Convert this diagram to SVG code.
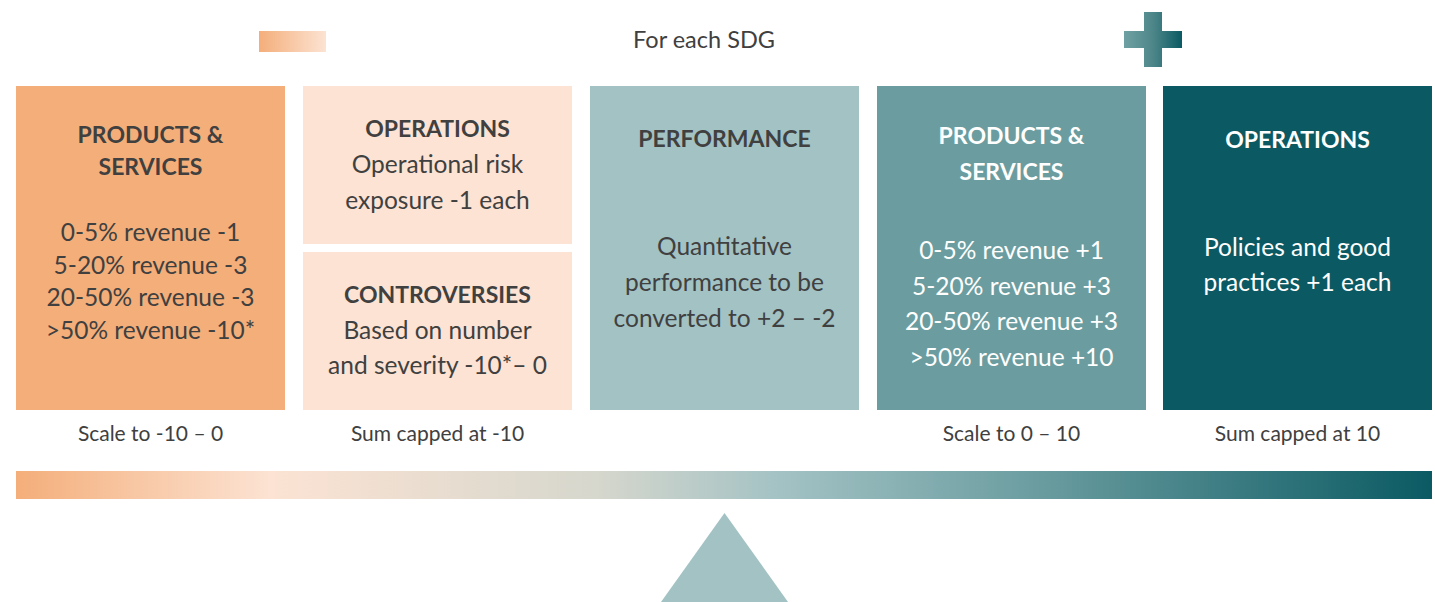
<svg xmlns="http://www.w3.org/2000/svg" width="1435" height="602" viewBox="0 0 1435 602">
  <defs>
    <linearGradient id="gPeach" x1="0" y1="0" x2="1" y2="0">
      <stop offset="0" stop-color="#F4AE7A"/>
      <stop offset="1" stop-color="#FCE3D3"/>
    </linearGradient>
    <linearGradient id="gTeal" gradientUnits="userSpaceOnUse" x1="1124" y1="0" x2="1182" y2="0">
      <stop offset="0" stop-color="#6FA1A3"/>
      <stop offset="0.5" stop-color="#4D8689"/>
      <stop offset="1" stop-color="#0B5A63"/>
    </linearGradient>
    <linearGradient id="gScale" gradientUnits="userSpaceOnUse" x1="16" y1="0" x2="1432" y2="0">
      <stop offset="0" stop-color="#F4AE7A"/>
      <stop offset="0.18" stop-color="#FCE3D3"/>
      <stop offset="0.41" stop-color="#D6D7CD"/>
      <stop offset="0.54" stop-color="#A3C2C4"/>
      <stop offset="0.72" stop-color="#6B9DA0"/>
      <stop offset="1" stop-color="#0B5A63"/>
    </linearGradient>
    <style>
      text { font-family: Lato, "Liberation Sans", sans-serif; text-anchor: middle; }
      .h { font-size: 23px; font-weight: bold; }
      .b { font-size: 24.5px; }
      .s { font-size: 21px; fill: #404040; }
      .dk { fill: #404040; }
      .wt { fill: #FFFFFF; }
    </style>
  </defs>

  <!-- header: legend swatch, title, plus sign -->
  <g id="header">
    <rect x="259" y="31" width="67" height="21" fill="url(#gPeach)"/>
    <text x="704" y="48" font-size="23.5" fill="#404040">For each SDG</text>
    <path d="M1144 12 H1162 V31 H1182 V48 H1162 V67 H1144 V48 H1124 V31 H1144 Z" fill="url(#gTeal)"/>
  </g>

  <!-- negative products & services -->
  <g id="neg-products">
    <rect x="16" y="86" width="269" height="324" fill="#F4AE7A"/>
    <text class="h dk" x="150.5" y="143">PRODUCTS &amp;</text>
    <text class="h dk" x="150.5" y="175">SERVICES</text>
    <text class="b dk" x="150.5" y="241">0-5% revenue -1</text>
    <text class="b dk" x="150.5" y="273.5">5-20% revenue -3</text>
    <text class="b dk" x="150.5" y="306">20-50% revenue -3</text>
    <text class="b dk" x="150.5" y="338.5">&gt;50% revenue -10*</text>
  </g>

  <!-- negative operations -->
  <g id="neg-operations">
    <rect x="303" y="86" width="269" height="158" fill="#FCE3D3"/>
    <text class="h dk" x="437.5" y="137">OPERATIONS</text>
    <text class="b dk" x="437.5" y="173">Operational risk</text>
    <text class="b dk" x="437.5" y="209">exposure -1 each</text>
  </g>

  <!-- controversies -->
  <g id="controversies">
    <rect x="303" y="252" width="269" height="158" fill="#FCE3D3"/>
    <text class="h dk" x="437.5" y="303">CONTROVERSIES</text>
    <text class="b dk" x="437.5" y="339">Based on number</text>
    <text class="b dk" x="437.5" y="374">and severity -10*– 0</text>
  </g>

  <!-- performance -->
  <g id="performance">
    <rect x="590" y="86" width="269" height="324" fill="#A3C2C4"/>
    <text class="h dk" x="724.5" y="147">PERFORMANCE</text>
    <text class="b dk" x="724.5" y="255">Quantitative</text>
    <text class="b dk" x="724.5" y="291">performance to be</text>
    <text class="b dk" x="724.5" y="327">converted to +2 – -2</text>
  </g>

  <!-- positive products & services -->
  <g id="pos-products">
    <rect x="877" y="86" width="269" height="324" fill="#6B9DA0"/>
    <text class="h wt" x="1011.5" y="144">PRODUCTS &amp;</text>
    <text class="h wt" x="1011.5" y="180">SERVICES</text>
    <text class="b wt" x="1011.5" y="259">0-5% revenue +1</text>
    <text class="b wt" x="1011.5" y="294.5">5-20% revenue +3</text>
    <text class="b wt" x="1011.5" y="330">20-50% revenue +3</text>
    <text class="b wt" x="1011.5" y="365.5">&gt;50% revenue +10</text>
  </g>

  <!-- positive operations -->
  <g id="pos-operations">
    <rect x="1163" y="86" width="269" height="324" fill="#0B5A63"/>
    <text class="h wt" x="1297.5" y="148">OPERATIONS</text>
    <text class="b wt" x="1297.5" y="256">Policies and good</text>
    <text class="b wt" x="1297.5" y="291">practices +1 each</text>
  </g>

  <!-- aggregation notes under the columns -->
  <g id="notes">
    <text class="s" x="150.5" y="441">Scale to -10 – 0</text>
    <text class="s" x="437.5" y="441">Sum capped at -10</text>
    <text class="s" x="1011.5" y="441">Scale to 0 – 10</text>
    <text class="s" x="1297.5" y="441">Sum capped at 10</text>
  </g>

  <!-- balance beam and fulcrum -->
  <g id="scale">
    <rect x="16" y="471" width="1416" height="28" fill="url(#gScale)"/>
    <polygon points="724.5,513 788,602 661,602" fill="#A3C2C4"/>
  </g>

  <g id="connectors"></g>
</svg>
